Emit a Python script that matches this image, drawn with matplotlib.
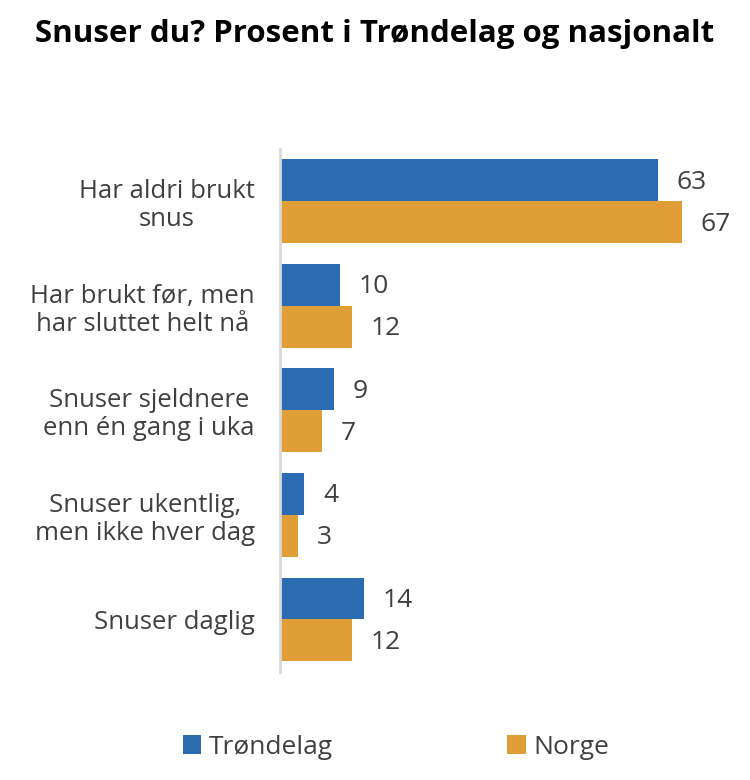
import matplotlib.pyplot as plt
import numpy as np

# Data
categories = ["Har aldri brukt\nsnus", "Har brukt før, men\nhar sluttet helt nå",
              "Snuser sjeldnere\nenn én gang i uka", "Snuser ukentlig,\nmen ikke hver dag",
              "Snuser daglig"]
trondelag = [63, 10, 9, 4, 14]
norge = [67, 12, 7, 3, 12]

blue = "#2B6CB3"
orange = "#E09F36"
text_grey = "#404040"

plt.rcParams["font.family"] = ["Open Sans", "DejaVu Sans"]

fig = plt.figure(figsize=(7.5, 7.8), dpi=100)
ax = fig.add_axes([0.373, 0.139, 0.6, 0.670])

y = np.arange(len(categories))
h = 0.4
ax.barh(y - h / 2, trondelag, height=h, color=blue, label="Trøndelag")
ax.barh(y + h / 2, norge, height=h, color=orange, label="Norge")

# value labels
for i in range(len(categories)):
    ax.text(trondelag[i] + 3.2, y[i] - h / 2 + 0.02, str(trondelag[i]), va="center", ha="left",
            fontsize=19, color=text_grey)
    ax.text(norge[i] + 3.2, y[i] + h / 2 + 0.02, str(norge[i]), va="center", ha="left",
            fontsize=19, color=text_grey)

ax.set_ylim(4.5, -0.5)
ax.set_xlim(0, 75)
ax.set_yticks(y)
ax.set_yticklabels(categories, fontsize=18.5, color=text_grey, multialignment="center",
                   linespacing=1.15)
ax.tick_params(axis="y", length=0, pad=18)
ax.set_xticks([])
for s in ["top", "right", "bottom"]:
    ax.spines[s].set_visible(False)
ax.spines["left"].set_color("#d9d9d9")
ax.spines["left"].set_linewidth(2)

fig.text(0.5, 0.957, "Snuser du? Prosent i Trøndelag og nasjonalt", ha="center", va="center",
         fontsize=22.5, fontweight="bold", color="black")

fig.legend(loc="center", bbox_to_anchor=(0.528, 0.042), ncol=2, frameon=False,
           fontsize=19, handlelength=0.7, handleheight=0.7, handletextpad=0.3,
           columnspacing=6.6, labelcolor=text_grey)

fig.savefig("out.png", dpi=100)
